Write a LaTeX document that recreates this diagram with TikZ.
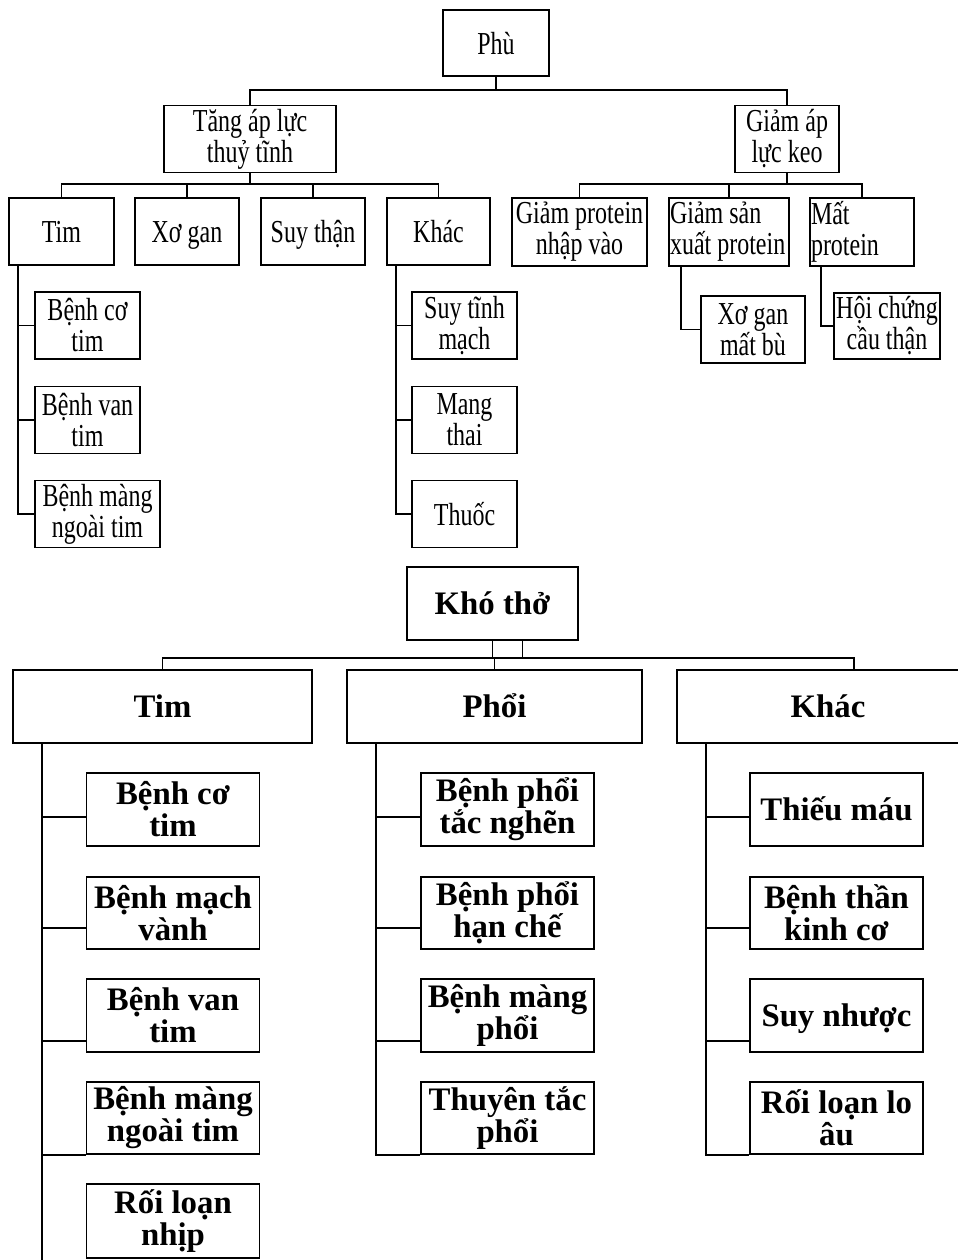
\documentclass[tikz,border=0pt]{standalone}
\usepackage{fontspec}
\setmainfont{Liberation Serif}
\newfontfamily\narrowfont[FakeStretch=0.75]{Liberation Serif}
\usetikzlibrary{positioning,calc}
\tikzset{
  box/.style 2 args={draw, line width=0.9pt, inner sep=1pt, align=center,
    minimum width=#1*0.5pt, minimum height=#2*0.5pt},
  tbox/.style={font=\narrowfont\fontsize{16}{15.5}\selectfont},
  bbox/.style={font=\bfseries\fontsize{16.4}{16}\selectfont},
  sl/.style={text height=12.5pt, text depth=1.5pt}}

\begin{document}
\begin{tikzpicture}[x=0.5pt, y=-0.5pt, line width=0.9pt]
\useasboundingbox (0,0) rectangle (958,1260);
% Phù
\node[box={106}{66}, tbox, sl] (phu) at (496,43) {Phù};
\node[box={172}{67}, tbox] (tang) at (250,139) {Tăng áp lực\\thuỷ tĩnh};
\node[box={104}{67}, tbox] (giam) at (787,139) {Giảm áp\\lực keo};
\foreach \n/\x/\w/\t in {tim/61.5/105/Tim, xogan/187/104/Xơ gan, suythan/313/104/Suy thận, khac/438.5/103/Khác}
  \node[box={\w}{67}, tbox, sl] (\n) at (\x,231.5) {\t};
\foreach \n/\y/\w/\t in {bct/325.5/105/{Bệnh cơ\\tim}, bvt/420/105/{Bệnh van\\tim}, bmnt/514/125/{Bệnh màng\\ngoài tim}}
  \node[box={\w}{67}, tbox] (\n) at (35+\w/2,\y) {\t};
\foreach \n/\y/\t in {stm/325.5/{Suy tĩnh\\mạch}, mthai/420/{Mang\\thai}}
  \node[box={105}{67}, tbox] (\n) at (464.5,\y) {\t};
\node[box={105}{67}, tbox, sl] (thuoc) at (464.5,514) {Thuốc};
\node[box={135}{68}, tbox] (gpn) at (579.5,232) {Giảm protein\\nhập vào};
\node[box={120}{68}, tbox, align=flush left, inner sep=0.5pt, text width=59pt] (gsx) at (729,232) {Giảm sản\\xuất protein};
\node[box={104}{68}, tbox, align=flush left, inner sep=0.5pt, text width=51pt] (mp) at (862,232) {Mất\\protein};
\node[box={104}{67}, tbox] (xgmb) at (753,329.5) {Xơ gan\\mất bù};
\node[box={106}{66}, tbox] (hcct) at (887,326) {Hội chứng\\cầu thận};

\coordinate (bus1) at (496,90);
\draw (phu.south) -- (bus1);
\draw (tang.north) |- (bus1) -| (giam.north);
\coordinate (bus2) at (250,184);
\draw (tang.south) -- (bus2);
\draw (tim.north) |- (bus2) -| (khac.north);
\draw (xogan.north) -- (xogan.north |- bus2);
\draw (suythan.north) -- (suythan.north |- bus2);
\coordinate (bus3) at (787,184);
\draw (giam.south) -- (bus3);
\draw (gpn.north) |- (bus3) -| (mp.north);
\draw (gsx.north) -- (gsx.north |- bus3);

\coordinate (timv) at ([xshift=5pt]tim.south west);
\draw (timv) |- (bmnt.west);
\draw (bct.west) -- (bct.west -| timv);
\draw (bvt.west) -- (bvt.west -| timv);
\coordinate (khacv) at ([xshift=5pt]khac.south west);
\draw (khacv) |- (thuoc.west);
\draw (stm.west) -- (stm.west -| khacv);
\draw (mthai.west) -- (mthai.west -| khacv);
\coordinate (gsxv) at ([xshift=6.5pt]gsx.south west);
\draw (gsxv) |- (xgmb.west);
\coordinate (mpv) at ([xshift=6pt]mp.south west);
\draw (mpv) |- (hcct.west);

% Khó thở
\node[box={171}{73}, bbox, sl] (kho) at (492.5,603.5) {Khó thở};
\node[box={299}{73}, bbox, sl] (tim2) at (162.5,706.5) {Tim};
\node[box={295}{73}, bbox, sl] (phoi) at (494.5,706.5) {Phổi};
\node[box={302}{73}, bbox, sl] (khac2) at (828,706.5) {Khác};
\foreach \n/\x/\y/\h/\t in {
  t1/173/809.5/73/{Bệnh cơ\\tim}, t2/173/913/72/{Bệnh mạch\\vành}, t3/173/1015.5/73/{Bệnh van\\tim},
  t4/173/1118/72/{Bệnh màng\\ngoài tim}, t5/173/1221/74/{Rối loạn\\nhịp},
  p1/507.5/809.5/73/{Bệnh phổi\\tắc nghẽn}, p2/507.5/913/72/{Bệnh phổi\\hạn chế},
  p3/507.5/1015.5/73/{Bệnh màng\\phổi}, p4/507.5/1118/72/{Thuyên tắc\\phổi},
  k2/836.5/913/72/{Bệnh thần\\kinh cơ}, k4/836.5/1118/72/{Rối loạn lo\\âu}}
  \node[box={173}{\h}, bbox] (\n) at (\x,\y) {\t};
\node[box={173}{73}, bbox, sl] (k1) at (836.5,809.5) {Thiếu máu};
\node[box={173}{73}, bbox, sl] (k3) at (836.5,1015.5) {Suy nhược};

\coordinate (bus) at ([yshift=-8.5pt]kho.south);
\draw (kho.south) -- (bus);
\draw ([xshift=15pt]kho.south) |- (bus);
\draw (tim2.north) |- (bus) -| ([xshift=13pt]khac2.north);
\draw (phoi.north) -- (phoi.north |- bus);

\foreach \c/\p in {t/tim2, p/phoi, k/khac2}
  \coordinate (\c v) at ([xshift=15pt]\p.south west);
\draw (tv) -- ([yshift=-2pt]t5.south -| tv);
\draw (t4.south west) -- (t4.south west -| tv);
\draw (pv) |- (p4.south west);
\draw (kv) |- (k4.south west);
\foreach \c in {t,p,k}
  \foreach \r/\s in {1/-3.75, 2/-7.5, 3/-12.75}
    \draw ([yshift=\s pt]\c\r.west) -- ([yshift=\s pt]\c\r.west -| \c v);
\end{tikzpicture}
\end{document}
